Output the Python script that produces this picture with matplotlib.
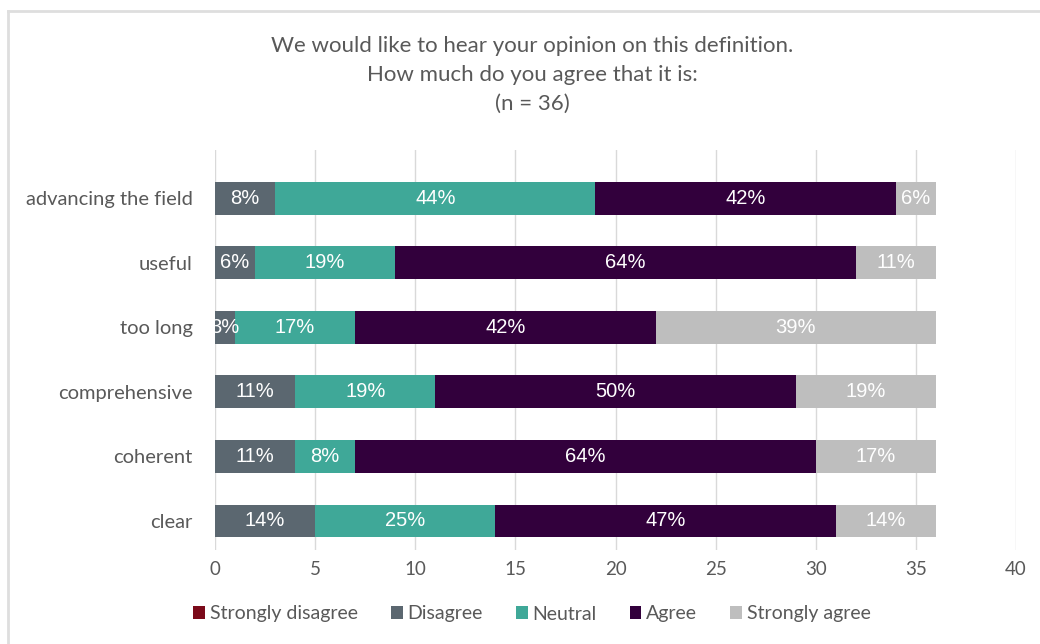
import numpy as np
import matplotlib.pyplot as plt
from matplotlib.lines import Line2D
from matplotlib.patches import Patch

# Response counts per statement (n = 36), top row first
statements = ["advancing the field", "useful", "too long",
              "comprehensive", "coherent", "clear"]
levels = ["Strongly disagree", "Disagree", "Neutral", "Agree", "Strongly agree"]
strongly_disagree = [0, 0, 0, 0, 0, 0]
disagree = [3, 2, 1, 4, 4, 5]
neutral = [16, 7, 6, 7, 3, 9]
agree = [15, 23, 15, 18, 23, 17]
strongly_agree = [2, 4, 14, 7, 6, 5]
n_resp = 36

colors = ["#7B0A1A", "#5B6770", "#3FA898", "#32003C", "#BEBEBE"]
series = [strongly_disagree, disagree, neutral, agree, strongly_agree]

text_gray = "#595959"
ui_font = ["Lato", "DejaVu Sans"]

fig = plt.figure(figsize=(10.4, 6.44), dpi=100)
ax = fig.add_axes([215 / 1040, 1 - 550 / 644, (1016 - 215) / 1040, 400 / 644])

y = np.arange(len(statements))
left = np.zeros(len(statements))
for vals, col in zip(series, colors):
    vals = np.array(vals, dtype=float)
    ax.barh(y, vals, left=left, height=0.51, color=col, zorder=3)
    for yi, (l, v) in enumerate(zip(left, vals)):
        if v > 0:
            ax.text(l + v / 2, yi, f"{round(100 * v / n_resp)}%",
                    ha="center", va="center", color="white",
                    fontsize=14.5, family="Liberation Sans", zorder=4)
    left += vals

ax.set_xlim(0, 40)
ax.set_ylim(5.45, -0.75)
ax.set_xticks(range(0, 41, 5))
ax.set_yticks(y)
ax.set_yticklabels(statements)
ax.grid(axis="x", color="#D9D9D9", linewidth=1, zorder=0)
for s in ax.spines.values():
    s.set_visible(False)
ax.tick_params(length=0, colors=text_gray)
ax.tick_params(axis="y", labelsize=14.5, pad=16)
ax.tick_params(axis="x", labelsize=13.5, pad=8)
for lab in ax.get_xticklabels() + ax.get_yticklabels():
    lab.set_family(ui_font)

fig.text(532 / 1040, 1 - 75 / 644,
         "We would like to hear your opinion on this definition.\n"
         "How much do you agree that it is:\n(n = 36)",
         ha="center", va="center", fontsize=16, color=text_gray,
         family=ui_font, linespacing=1.55)

handles = [Patch(facecolor=c, edgecolor="none") for c in colors]
fig.legend(handles, levels, loc="center", bbox_to_anchor=(532 / 1040, 1 - 614 / 644),
           ncol=5, frameon=False, handlelength=0.6, handleheight=0.6,
           handletextpad=0.25, columnspacing=1.7,
           prop={"family": ui_font, "size": 14}, labelcolor=text_gray)

# light frame around the chart area
fig.add_artist(Line2D([8 / 1040, 8 / 1040], [0, 1 - 11 / 644],
                      transform=fig.transFigure, color="#DEDEDE", linewidth=2))
fig.add_artist(Line2D([8 / 1040, 1], [1 - 11 / 644, 1 - 11 / 644],
                      transform=fig.transFigure, color="#DEDEDE", linewidth=2))

fig.savefig("out.png", dpi=100, facecolor="white")
